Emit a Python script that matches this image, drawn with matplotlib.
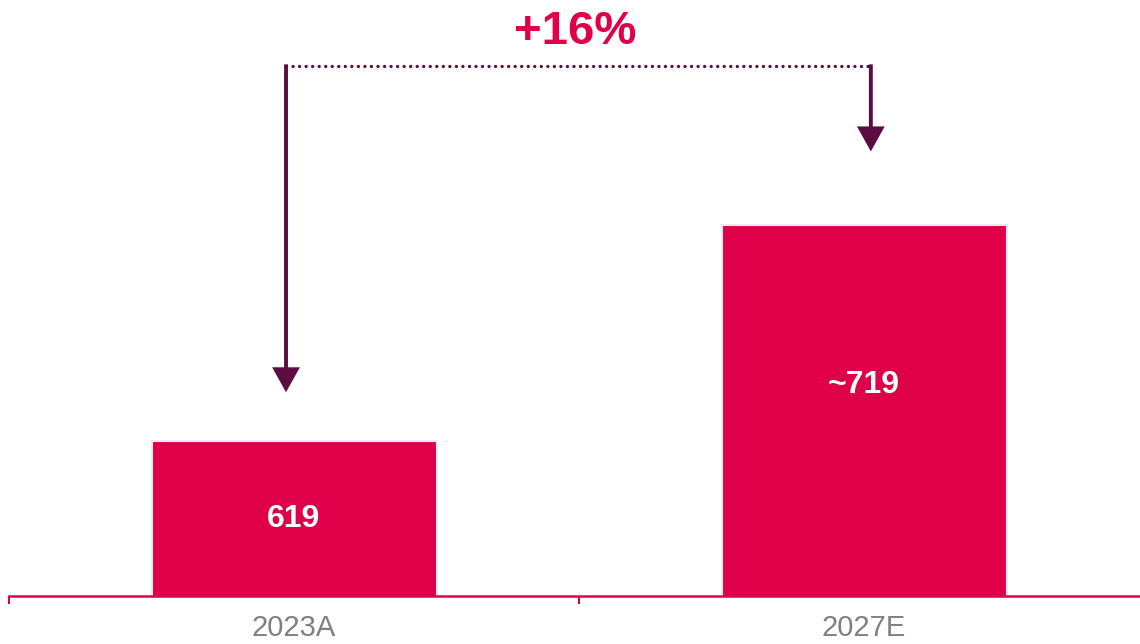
import matplotlib.pyplot as plt

""" Chart data """
categories = ['2023A', '2027E']
values = [619, 719]
value_labels = ['619', '~719']
growth_label = '+16%'

""" Style """
bar_color = '#E00049'
arrow_color = '#5C0C41'
plt.rcParams['font.family'] = ['Liberation Sans', 'DejaVu Sans']

fig = plt.figure(figsize=(11.4, 6.44), dpi=100, facecolor='w')
ax = fig.add_axes([9 / 1140, 48 / 644, 1.0, 596 / 644])

x = list(range(len(categories)))
ax.bar(x, values, width=0.5, color=bar_color, edgecolor='#E6EDF2', linewidth=1.5, zorder=2)
ax.set_xlim(-0.5, 1.5)
ax.set_ylim(547.2, 823.1)

# value labels inside the bars
label_y = [583, 645]
for xi, lab, ly in zip(x, value_labels, label_y):
    ax.text(xi, ly, lab, ha='center', va='center', color='w', fontsize=23, fontweight='bold', zorder=3)

# bracket with arrows showing the growth
top_y = 792.6
left_x, right_x = -0.014, 1.012
tips = [641.5, 753]
ax.plot([left_x, right_x], [top_y, top_y], color=arrow_color, lw=2.4,
        linestyle=(0, (0.01, 1.95)), dash_capstyle='round', zorder=3)
for ax_x, tip in zip([left_x, right_x], tips):
    ax.annotate('', xy=(ax_x, tip), xytext=(ax_x, top_y + 0.7),
                arrowprops=dict(width=2.8, headwidth=20, headlength=18, facecolor=arrow_color,
                                edgecolor='none', lw=0, shrink=0), zorder=3)
ax.text((left_x + right_x) / 2 - 0.005, 808.5, growth_label, ha='center', va='center', color=bar_color,
        fontsize=34, fontweight='bold')

# axis styling
for s in ['left', 'right', 'top']:
    ax.spines[s].set_visible(False)
ax.spines['bottom'].set_color(bar_color)
ax.spines['bottom'].set_linewidth(1.8)
ax.spines['bottom'].set_zorder(4)
ax.set_yticks([])
ax.set_xticks(x)
ax.set_xticklabels(categories, fontsize=21, color='#808080')
ax.tick_params(axis='x', which='major', length=0, pad=13)
ax.set_xticks([-0.5, 0.5, 1.5], minor=True)
ax.tick_params(axis='x', which='minor', length=6, width=1.5, color=bar_color)

plt.savefig('out.png', dpi=100, facecolor='w')
